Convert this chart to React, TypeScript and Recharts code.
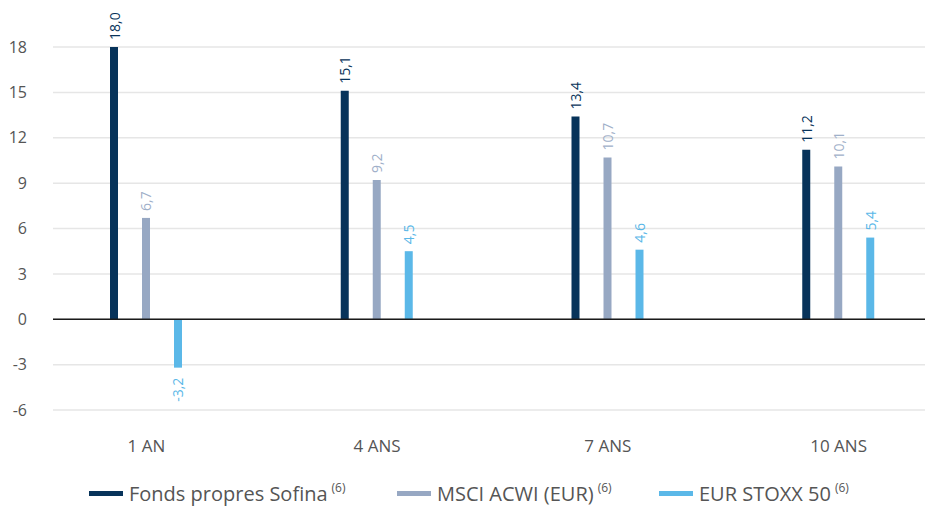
import { Bar, BarChart, CartesianGrid, LabelList, ReferenceLine, XAxis, YAxis } from 'recharts'

const categories = ['1 AN', '4 ANS', '7 ANS', '10 ANS']
const sofina = [18.0, 15.1, 13.4, 11.2]
const msci = [6.7, 9.2, 10.7, 10.1]
const stoxx = [-3.2, 4.5, 4.6, 5.4]
const yTicks = [-6, -3, 0, 3, 6, 9, 12, 15, 18]
const seriesNames = ['Fonds propres Sofina', 'MSCI ACWI (EUR)', 'EUR STOXX 50']
const footnote = '(6)'

const FONT = '"Open Sans", sans-serif'
const TEXT_GREY = '#555555'
// left edge of each legend entry
const LEGEND_X = [89, 397, 659]

const series = [
  { key: 'sofina', name: seriesNames[0], color: '#07335a', labelColor: '#07335a' },
  { key: 'msci', name: seriesNames[1], color: '#97a8c3', labelColor: '#9fb0c9' },
  { key: 'stoxx', name: seriesNames[2], color: '#5bb8e8', labelColor: '#5bb8e8' },
]

const chartData = categories.map((period, i) => ({
  period,
  sofina: sofina[i],
  msci: msci[i],
  stoxx: stoxx[i],
}))

const fmt = (v: number) => v.toFixed(1).replace('.', ',')

interface ValueLabelProps {
  x?: number | string
  y?: number | string
  width?: number | string
  height?: number | string
  value?: number | string
  color: string
}

const ValueLabel = ({ x, y, width, height, value, color }: ValueLabelProps) => {
  const v = Number(value)
  const cx = Number(x) + Number(width) / 2
  const y0 = Number(y)
  const y1 = Number(y) + Number(height)
  const neg = v < 0
  const ay = neg ? Math.max(y0, y1) + 10 : Math.min(y0, y1) - 7
  return (
    <text
      x={cx}
      y={ay}
      transform={`rotate(-90 ${cx} ${ay})`}
      textAnchor={neg ? 'end' : 'start'}
      dominantBaseline="central"
      fill={color}
      fontSize={14}
      fontFamily={FONT}
    >
      {fmt(v)}
    </text>
  )
}

const ChartLegend = () => (
  <div style={{ fontFamily: FONT, fontSize: 20, color: TEXT_GREY, whiteSpace: 'nowrap' }}>
    {series.map((s, i) => (
      <div
        key={s.key}
        style={{ position: 'absolute', top: 480, left: LEGEND_X[i], display: 'flex', alignItems: 'center' }}
      >
        <span style={{ display: 'inline-block', width: 34, height: 5, background: s.color, marginRight: 6 }} />
        <span>{s.name}</span>
        <span style={{ fontSize: 12, marginLeft: 4, position: 'relative', top: -6 }}>{footnote}</span>
      </div>
    ))}
  </div>
)

export default function App() {
  return (
    <div style={{ position: 'absolute', left: 0, top: 0, width: 925, height: 507, background: '#fff' }}>
      <BarChart
        width={925}
        height={507}
        data={chartData}
        margin={{ top: 47, right: 0, bottom: 47, left: 0 }}
        barSize={8}
        barGap={24}
      >
        <CartesianGrid vertical={false} stroke="#e6e6e6" strokeWidth={1.5} />
        <XAxis
          dataKey="period"
          axisLine={false}
          tickLine={false}
          padding={{ left: -22, right: -29 }}
          tickMargin={24}
          tick={{ fill: TEXT_GREY, fontSize: 17, fontFamily: FONT }}
          height={50}
        />
        <YAxis
          domain={[-6, 18]}
          ticks={yTicks}
          interval={0}
          axisLine={false}
          tickLine={false}
          width={53}
          tickMargin={20}
          tick={{ fill: TEXT_GREY, fontSize: 16, fontFamily: FONT }}
        />
        <ReferenceLine y={0} stroke="#1a1a1a" strokeWidth={1.5} />
        {series.map((s) => (
          <Bar key={s.key} dataKey={s.key} name={s.name} fill={s.color} isAnimationActive={false}>
            <LabelList dataKey={s.key} content={(p: any) => <ValueLabel {...p} color={s.labelColor} />} />
          </Bar>
        ))}
      </BarChart>
      <ChartLegend />
    </div>
  )
}
